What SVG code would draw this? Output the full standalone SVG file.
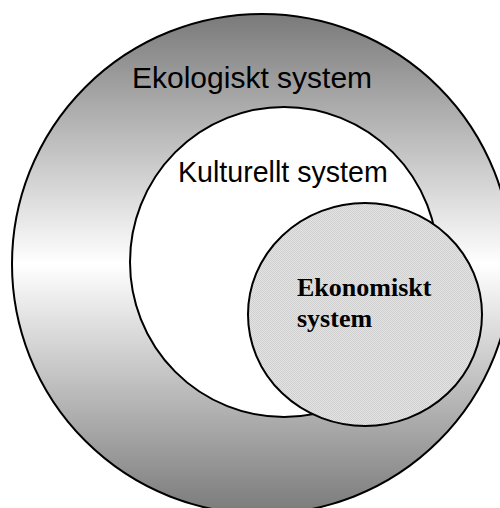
<svg xmlns="http://www.w3.org/2000/svg" width="500" height="508" viewBox="0 0 500 508">
  <defs>
    <!-- grey-white-grey vertical shading of the outer ring -->
    <linearGradient id="ecoShade" x1="0" y1="0" x2="0" y2="1">
      <stop offset="0" stop-color="#7a7a7a"/>
      <stop offset="0.5" stop-color="#ffffff"/>
      <stop offset="1" stop-color="#7a7a7a"/>
    </linearGradient>
    <!-- fine dotted grey texture -->
    <pattern id="dots" width="2" height="2" patternUnits="userSpaceOnUse">
      <rect width="2" height="2" fill="#e4e4e4"/>
      <rect width="1" height="1" fill="#cfcfcf"/>
      <rect x="1" y="1" width="1" height="1" fill="#cfcfcf"/>
    </pattern>
    <style>
      .ring { stroke: #000; stroke-width: 2; }
      .sans { font-family: "Liberation Sans", Arial, sans-serif; fill: #000; }
      .serif { font-family: "Liberation Serif", "Times New Roman", serif; font-weight: bold; fill: #000; }
    </style>
  </defs>

  <rect width="500" height="508" fill="#fff"/>

  <g id="ekologiskt">
    <circle class="ring" cx="262" cy="264" r="250" fill="url(#ecoShade)"/>
    <text class="sans" x="132" y="88" font-size="30">Ekologiskt system</text>
  </g>

  <g id="kulturellt">
    <ellipse class="ring" cx="284" cy="262" rx="154" ry="155" fill="#fff"/>
    <text class="sans" x="178" y="182" font-size="28.6">Kulturellt system</text>
  </g>

  <g id="ekonomiskt">
    <ellipse class="ring" cx="365" cy="314.5" rx="117" ry="111.5" fill="url(#dots)"/>
    <text class="serif" x="297" y="296" font-size="26">Ekonomiskt</text>
    <text class="serif" x="297" y="327" font-size="26">system</text>
  </g>

  <g id="connectors"/>
</svg>
